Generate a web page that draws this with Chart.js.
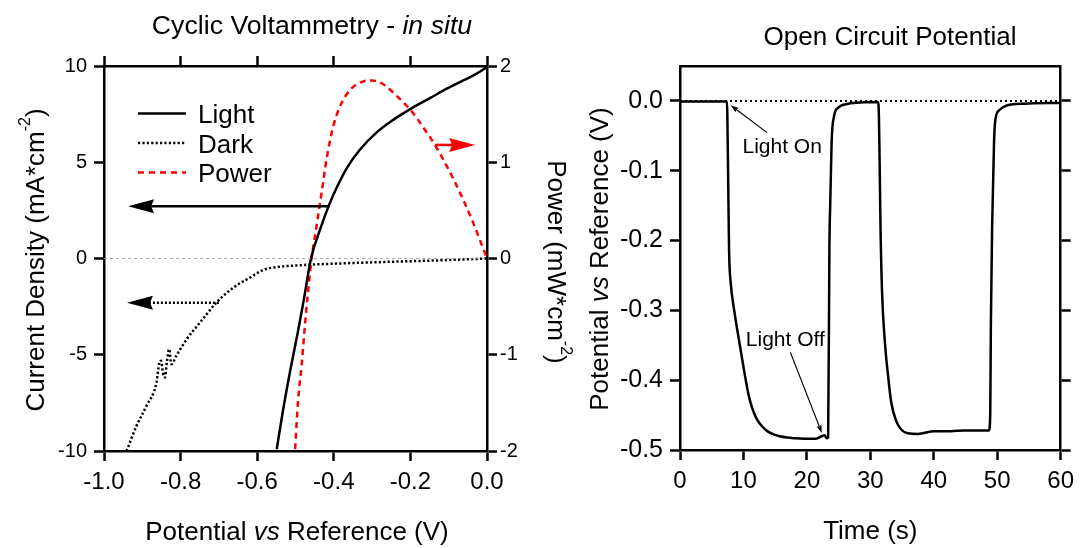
<!DOCTYPE html>
<html><head><meta charset="utf-8">
<script src="https://cdn.jsdelivr.net/npm/chart.js@4.4.1/dist/chart.umd.min.js"></script>
<style>
html,body{margin:0;padding:0;background:#fff;}
#wrap{position:relative;width:1081px;height:548px;overflow:hidden;background:#fff;}
canvas{position:absolute;top:0;}
</style>
</head><body><div id="wrap">
<canvas id="cv" width="580" height="548" style="left:0;width:580px;height:548px"></canvas>
<canvas id="ocp" width="501" height="548" style="left:580px;width:501px;height:548px"></canvas>
</div>
<script>
// ---------- DATA ----------
// Cyclic voltammetry: Light (V, mA/cm2)
const lightV = [-0.549, -0.532, -0.513, -0.494, -0.478, -0.4595, -0.436, -0.412, -0.392, -0.366, -0.332, -0.288, -0.245, -0.197, -0.149, -0.105, -0.062, -0.027, 0.0];
const lightJ = [-9.9, -7.82, -5.74, -3.84, -2.11, 0.0, 1.5, 2.8, 3.7, 4.7, 5.65, 6.55, 7.2, 7.8, 8.33, 8.82, 9.25, 9.6, 9.95];
// Dark
const darkV = [-0.941, -0.915, -0.889, -0.863, -0.856, -0.851, -0.846, -0.841, -0.836, -0.830, -0.824, -0.811, -0.784, -0.749, -0.706, -0.662, -0.619, -0.584, -0.558, -0.488, -0.40, -0.30, -0.20, -0.10, 0.0];
const darkJ = [-10.0, -8.69, -7.65, -6.44, -5.45, -5.31, -5.95, -6.18, -5.40, -4.71, -5.49, -5.05, -4.19, -3.32, -2.28, -1.51, -0.99, -0.59, -0.47, -0.35, -0.27, -0.20, -0.14, -0.08, 0.0];
// Power (mW/cm2)
const powerV = [-0.501, -0.493, -0.484, -0.477, -0.469, -0.458, -0.445, -0.432, -0.419, -0.401, -0.379, -0.353, -0.323, -0.301, -0.271, -0.236, -0.197, -0.166, -0.136, -0.105, -0.070, -0.036, 0.0];
const powerP = [-1.98, -1.46, -1.11, -0.77, -0.42, 0.0, 0.34, 0.68, 1.03, 1.38, 1.62, 1.77, 1.84, 1.85, 1.81, 1.69, 1.53, 1.36, 1.18, 0.96, 0.68, 0.37, 0.0];
const cvZeroV = [-1, 0];
const cvZeroJ = [0, 0];

// Open circuit potential (s, V)
const ocpT = [0, 7.4, 7.55, 7.73, 7.99, 8.51, 9.29, 10.08, 10.86, 11.9, 13.47, 15.56, 18.17, 21.3, 22.4, 22.8, 23.1, 23.35, 23.55, 23.7, 23.9, 24.3, 24.9, 26.5, 29.1, 31.2, 31.35, 31.46, 31.6, 31.85, 32.3, 32.8, 33.3, 34.1, 34.9, 35.9, 37.5, 40.1, 42.7, 44.8, 46.9, 48.7, 48.9, 49.0, 49.2, 49.5, 49.7, 50.3, 51.6, 54.2, 60];
const ocpV = [-0.001, -0.001, -0.08, -0.212, -0.260, -0.298, -0.342, -0.385, -0.423, -0.452, -0.471, -0.480, -0.483, -0.484, -0.480, -0.479, -0.483, -0.482, -0.21, -0.14, -0.059, -0.021, -0.010, -0.004, -0.002, -0.0015, -0.02, -0.083, -0.179, -0.274, -0.346, -0.394, -0.432, -0.459, -0.471, -0.476, -0.477, -0.473, -0.473, -0.472, -0.472, -0.472, -0.45, -0.322, -0.179, -0.059, -0.028, -0.0135, -0.0063, -0.0039, -0.003];
const ocpRefT = [0, 60];
const ocpRefV = [0, 0];

// Ticks
const cvXTicks = [-1.0, -0.8, -0.6, -0.4, -0.2, 0.0];
const cvXTickLabels = ['-1.0', '-0.8', '-0.6', '-0.4', '-0.2', '0.0'];
const cvYTicks = [-10, -5, 0, 5, 10];
const cvYTickLabels = ['-10', '-5', '0', '5', '10'];
const cvY2Ticks = [-2, -1, 0, 1, 2];
const cvY2TickLabels = ['-2', '-1', '0', '1', '2'];
const ocpXTicks = [0, 10, 20, 30, 40, 50, 60];
const ocpXTickLabels = ['0', '10', '20', '30', '40', '50', '60'];
const ocpYTicks = [-0.5, -0.4, -0.3, -0.2, -0.1, 0.0];
const ocpYTickLabels = ['-0.5', '-0.4', '-0.3', '-0.2', '-0.1', '0.0'];

// Annotation arrows (data coordinates)
const cvArrows = [
  {from: [-0.412, 2.72], to: [-0.937, 2.72], axis: 'y', color: '#000', dash: []},
  {from: [-0.700, -2.30], to: [-0.940, -2.30], axis: 'y', color: '#000', dash: [2, 2]},
  {from: [-0.136, 1.18], to: [-0.031, 1.18], axis: 'y2', color: '#ff0000', dash: []}
];
const ocpNotes = [
  {text: 'Light On', at: [16.1, -0.074], tail: [13.74, -0.0455], tip: [7.99, -0.0063]},
  {text: 'Light Off', at: [16.6, -0.3516], tail: [17.39, -0.360], tip: [22.36, -0.4756]}
];
const legendItems = [
  {label: 'Light', color: '#000', dash: []},
  {label: 'Dark', color: '#000', dash: [2.2, 2.2]},
  {label: 'Power', color: '#ff0000', dash: [6, 5]}
];

// ---------- HELPERS ----------
const FAM = "'Liberation Sans', Arial, Helvetica, sans-serif";
function fnt(size, style) { return (style ? style + ' ' : '') + size + 'px ' + FAM; }
function pts(xs, ys) { return xs.map((x, i) => ({x: x, y: ys[i]})); }
function setTicks(vals) { return function (scale) { scale.ticks = vals.map(v => ({value: v})); }; }
function labelsFrom(arr) { return function (v, i) { return arr[i]; }; }

function drawRich(ctx, segs, x, y, rot) {
  ctx.save();
  ctx.translate(x, y);
  ctx.rotate(rot);
  ctx.fillStyle = '#000';
  ctx.textAlign = 'left';
  ctx.textBaseline = 'alphabetic';
  let total = 0;
  segs.forEach(s => { ctx.font = s.font; s.w = ctx.measureText(s.text).width; total += s.w; });
  let cx = -total / 2;
  segs.forEach(s => { ctx.font = s.font; ctx.fillText(s.text, cx, -(s.rise || 0)); cx += s.w; });
  ctx.restore();
}

function drawArrow(ctx, x0, y0, x1, y1, o) {
  const dx = x1 - x0, dy = y1 - y0, L = Math.hypot(dx, dy), ux = dx / L, uy = dy / L;
  const bx = x1 - ux * o.headLen, by = y1 - uy * o.headLen;
  ctx.save();
  ctx.strokeStyle = o.color; ctx.fillStyle = o.color; ctx.lineWidth = o.width;
  ctx.setLineDash(o.dash || []);
  ctx.beginPath(); ctx.moveTo(x0, y0); ctx.lineTo(bx + ux * o.notch, by + uy * o.notch); ctx.stroke();
  ctx.setLineDash([]);
  ctx.beginPath();
  ctx.moveTo(x1, y1);
  ctx.lineTo(bx - uy * o.headHalf, by + ux * o.headHalf);
  ctx.lineTo(bx + ux * o.notch, by + uy * o.notch);
  ctx.lineTo(bx + uy * o.headHalf, by - ux * o.headHalf);
  ctx.closePath(); ctx.fill();
  ctx.restore();
}

function axisCommon(extra) {
  return Object.assign({
    type: 'linear',
    grid: {drawOnChartArea: false, drawTicks: true, tickLength: 10, tickWidth: 2.5, tickColor: '#000', color: '#000'},
    border: {display: true, color: '#000', width: 2.5}
  }, extra);
}

// ---------- LEFT CHART ----------
const cvDecor = {
  id: 'cvDecor',
  afterDatasetsDraw(chart) {
    const ctx = chart.ctx, sx = chart.scales.x, a = chart.chartArea;
    cvArrows.forEach(ar => {
      const ys = chart.scales[ar.axis];
      drawArrow(ctx, sx.getPixelForValue(ar.from[0]), ys.getPixelForValue(ar.from[1]),
        sx.getPixelForValue(ar.to[0]), ys.getPixelForValue(ar.to[1]),
        {color: ar.color, width: 2.5, dash: ar.dash, headLen: 26, headHalf: 7, notch: 3});
    });
    // legend
    legendItems.forEach((it, i) => {
      const y = a.top + 47.5 + i * 29.5;
      ctx.save();
      ctx.strokeStyle = it.color; ctx.lineWidth = 2.5; ctx.setLineDash(it.dash);
      ctx.beginPath(); ctx.moveTo(a.left + 34, y); ctx.lineTo(a.left + 82, y); ctx.stroke();
      ctx.setLineDash([]);
      ctx.fillStyle = '#000'; ctx.font = fnt(26); ctx.textAlign = 'left'; ctx.textBaseline = 'alphabetic';
      ctx.fillText(it.label, a.left + 94, y + 9.5);
      ctx.restore();
    });
  },
  afterDraw(chart) {
    const ctx = chart.ctx, a = chart.chartArea;
    drawRich(ctx, [{text: 'Cyclic Voltammetry - ', font: fnt(26.7)}, {text: 'in situ', font: fnt(26.7, 'italic')}], 312, 34, 0);
    drawRich(ctx, [{text: 'Potential ', font: fnt(26)}, {text: 'vs', font: fnt(26, 'italic')}, {text: ' Reference (V)', font: fnt(26)}], 297, 540, 0);
    drawRich(ctx, [{text: 'Current Density (mA*cm', font: fnt(26)}, {text: '-2', font: fnt(16), rise: 14}, {text: ')', font: fnt(26)}], 44, 260, -Math.PI / 2);
    drawRich(ctx, [{text: 'Power (mW*cm', font: fnt(26)}, {text: '-2', font: fnt(16), rise: 13}, {text: ')', font: fnt(26)}], 548, 262, Math.PI / 2);
  }
};

new Chart(document.getElementById('cv'), {
  type: 'scatter',
  data: {
    datasets: [
      {label: 'zero', data: pts(cvZeroV, cvZeroJ), showLine: true, borderColor: '#9a9a9a', borderWidth: 0.8, borderDash: [3, 3], pointRadius: 0, xAxisID: 'x', yAxisID: 'y'},
      {label: 'Dark', data: pts(darkV, darkJ), showLine: true, borderColor: '#000', borderWidth: 2.5, borderDash: [2.2, 2.2], pointRadius: 0, cubicInterpolationMode: 'monotone', xAxisID: 'x', yAxisID: 'y'},
      {label: 'Light', data: pts(lightV, lightJ), showLine: true, borderColor: '#000', borderWidth: 2.5, pointRadius: 0, cubicInterpolationMode: 'monotone', xAxisID: 'x', yAxisID: 'y'},
      {label: 'Power', data: pts(powerV, powerP), showLine: true, borderColor: '#ff0000', borderWidth: 2.5, borderDash: [6, 4.5], pointRadius: 0, cubicInterpolationMode: 'monotone', xAxisID: 'x', yAxisID: 'y2'}
    ]
  },
  options: {
    responsive: false, animation: false, devicePixelRatio: 1, events: [],
    layout: {padding: 0},
    plugins: {legend: {display: false}, tooltip: {enabled: false}, title: {display: false}},
    scales: {
      x: axisCommon({position: 'bottom', min: -1, max: 0, afterBuildTicks: setTicks(cvXTicks), afterFit: s => { s.height = 97; },
        ticks: {autoSkip: false, maxRotation: 0, padding: 7, color: '#000', font: {family: FAM, size: 24}, callback: labelsFrom(cvXTickLabels)}}),
      x2: axisCommon({position: 'top', min: -1, max: 0, afterBuildTicks: setTicks(cvXTicks), afterFit: s => { s.height = 66; },
        ticks: {display: false}}),
      y: axisCommon({position: 'left', min: -10, max: 10, afterBuildTicks: setTicks(cvYTicks), afterFit: s => { s.width = 104; },
        ticks: {autoSkip: false, padding: 7, color: '#000', font: {family: FAM, size: 20}, callback: labelsFrom(cvYTickLabels)}}),
      y2: axisCommon({position: 'right', min: -2, max: 2, afterBuildTicks: setTicks(cvY2Ticks), afterFit: s => { s.width = 93; },
        ticks: {autoSkip: false, padding: 3, color: '#000', font: {family: FAM, size: 20}, callback: labelsFrom(cvY2TickLabels)}})
    }
  },
  plugins: [cvDecor]
});

// ---------- RIGHT CHART ----------
const ocpDecor = {
  id: 'ocpDecor',
  afterDatasetsDraw(chart) {
    const ctx = chart.ctx, sx = chart.scales.x, sy = chart.scales.y;
    ocpNotes.forEach(n => {
      drawArrow(ctx, sx.getPixelForValue(n.tail[0]), sy.getPixelForValue(n.tail[1]),
        sx.getPixelForValue(n.tip[0]), sy.getPixelForValue(n.tip[1]),
        {color: '#000', width: 1.1, dash: [], headLen: 8, headHalf: 2.6, notch: 1});
      ctx.save();
      ctx.fillStyle = '#000'; ctx.font = fnt(21); ctx.textAlign = 'center'; ctx.textBaseline = 'alphabetic';
      ctx.fillText(n.text, sx.getPixelForValue(n.at[0]), sy.getPixelForValue(n.at[1]));
      ctx.restore();
    });
  },
  afterDraw(chart) {
    const ctx = chart.ctx, a = chart.chartArea;
    drawRich(ctx, [{text: 'Open Circuit Potential', font: fnt(26)}], 310, 44.5, 0);
    drawRich(ctx, [{text: 'Time (s)', font: fnt(26)}], (a.left + a.right) / 2, 539, 0);
    drawRich(ctx, [{text: 'Potential ', font: fnt(26)}, {text: 'vs', font: fnt(26, 'italic')}, {text: ' Reference (V)', font: fnt(26)}], 28, 259, -Math.PI / 2);
  }
};

new Chart(document.getElementById('ocp'), {
  type: 'scatter',
  data: {
    datasets: [
      {label: 'ref', data: pts(ocpRefT, ocpRefV), showLine: true, borderColor: '#000', borderWidth: 2, borderDash: [2, 3], pointRadius: 0, xAxisID: 'x', yAxisID: 'y'},
      {label: 'OCP', data: pts(ocpT, ocpV), showLine: true, borderColor: '#000', borderWidth: 2.5, pointRadius: 0, cubicInterpolationMode: 'monotone', xAxisID: 'x', yAxisID: 'y'}
    ]
  },
  options: {
    responsive: false, animation: false, devicePixelRatio: 1, events: [],
    layout: {padding: 0},
    plugins: {legend: {display: false}, tooltip: {enabled: false}, title: {display: false}},
    scales: {
      x: axisCommon({position: 'bottom', min: 0, max: 60, afterBuildTicks: setTicks(ocpXTicks), afterFit: s => { s.height = 98; },
        ticks: {autoSkip: false, maxRotation: 0, padding: 7, color: '#000', font: {family: FAM, size: 24}, callback: labelsFrom(ocpXTickLabels)}}),
      x2: axisCommon({position: 'top', min: 0, max: 60, afterBuildTicks: setTicks(ocpXTicks), afterFit: s => { s.height = 66; },
        grid: {drawOnChartArea: false, drawTicks: false}, ticks: {display: false}}),
      y: axisCommon({position: 'left', min: -0.5, max: 0.05, afterBuildTicks: setTicks(ocpYTicks), afterFit: s => { s.width = 100; },
        ticks: {autoSkip: false, padding: 7, color: '#000', font: {family: FAM, size: 25}, callback: labelsFrom(ocpYTickLabels)}}),
      y2: axisCommon({position: 'right', min: -0.5, max: 0.05, afterBuildTicks: setTicks(ocpYTicks), afterFit: s => { s.width = 18; },
        ticks: {display: false}})
    }
  },
  plugins: [ocpDecor]
});
</script>
</body></html>
